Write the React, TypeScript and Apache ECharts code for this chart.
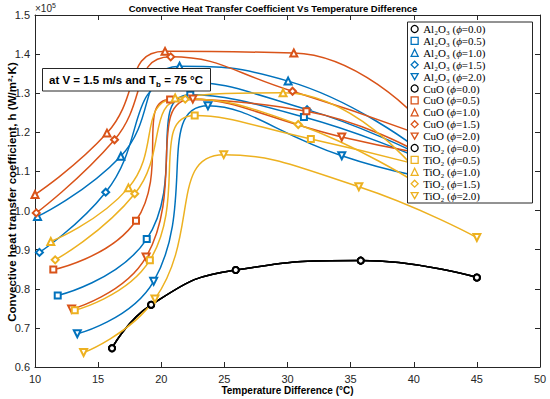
import { useEffect, useRef } from 'react';
import * as echarts from 'echarts';

type Pt = [number, number];

// Temperature difference (°C) vs h (×10^5 W/m²·K)
const baseFluid: Pt[] = [[16.1, 0.648], [19.2, 0.759], [25.9, 0.848], [35.8, 0.872], [45.0, 0.829]];

const al2o3Phi05: Pt[] = [[11.8, 0.783], [18.85, 0.927], [22.3, 1.296], [31.3, 1.239], [40, 1.14]];
const al2o3Phi10: Pt[] = [[10.2, 0.985], [16.8, 1.139], [21.45, 1.369], [30.05, 1.331], [40, 1.165]];
const al2o3Phi15: Pt[] = [[10.35, 0.893], [15.6, 1.047], [21.2, 1.33], [31.55, 1.258], [40, 1.15]];
const al2o3Phi20: Pt[] = [[13.35, 0.685], [19.4, 0.819], [23.7, 1.268], [34.3, 1.14], [40, 1.09]];

const cuoPhi05: Pt[] = [[11.45, 0.849], [18.0, 0.974], [20.7, 1.284], [31.5, 1.254], [40, 1.155]];
const cuoPhi10: Pt[] = [[10.0, 1.041], [15.7, 1.198], [20.3, 1.407], [30.5, 1.403], [40, 1.245]];
const cuoPhi15: Pt[] = [[10.1, 0.994], [16.3, 1.181], [20.75, 1.393], [30.4, 1.305], [40, 1.2]];
const cuoPhi20: Pt[] = [[12.9, 0.748], [18.8, 0.881], [22.5, 1.285], [34.3, 1.188], [40, 1.15]];

const tio2Phi05: Pt[] = [[13.15, 0.745], [19.1, 0.873], [22.65, 1.243], [31.85, 1.183], [40, 1.12]];
const tio2Phi10: Pt[] = [[11.25, 0.921], [17.4, 1.058], [21.1, 1.288], [29.65, 1.301], [40, 1.11]];
const tio2Phi15: Pt[] = [[11.6, 0.874], [17.9, 1.043], [21.9, 1.285], [30.85, 1.22], [40, 1.075]];
const tio2Phi20: Pt[] = [[13.85, 0.637], [19.5, 0.774], [24.95, 1.143], [35.65, 1.061], [45, 0.931]];

const xMin = 10, xMax = 50, xStep = 5;
const yMin = 0.6, yMax = 1.5, yStep = 0.1;

const BLUE = '#0072BD';
const ORANGE = '#D95319';
const YELLOW = '#EDB120';
const BLACK = '#000000';

const DOWN_TRI = 'path://M0,0L10,0L5,8.66Z';

interface Def { name: string; data: Pt[]; color: string; symbol: string; rot: number }

const defs: Def[] = [
  { name: 'Al₂O₃ (ϕ=0.0)', data: baseFluid, color: BLACK, symbol: 'circle', rot: 0 },
  { name: 'Al₂O₃ (ϕ=0.5)', data: al2o3Phi05, color: BLUE, symbol: 'rect', rot: 0 },
  { name: 'Al₂O₃ (ϕ=1.0)', data: al2o3Phi10, color: BLUE, symbol: 'triangle', rot: 0 },
  { name: 'Al₂O₃ (ϕ=1.5)', data: al2o3Phi15, color: BLUE, symbol: 'diamond', rot: 0 },
  { name: 'Al₂O₃ (ϕ=2.0)', data: al2o3Phi20, color: BLUE, symbol: 'triangle', rot: 180 },
  { name: 'CuO (ϕ=0.0)', data: baseFluid, color: BLACK, symbol: 'circle', rot: 0 },
  { name: 'CuO (ϕ=0.5)', data: cuoPhi05, color: ORANGE, symbol: 'rect', rot: 0 },
  { name: 'CuO (ϕ=1.0)', data: cuoPhi10, color: ORANGE, symbol: 'triangle', rot: 0 },
  { name: 'CuO (ϕ=1.5)', data: cuoPhi15, color: ORANGE, symbol: 'diamond', rot: 0 },
  { name: 'CuO (ϕ=2.0)', data: cuoPhi20, color: ORANGE, symbol: 'triangle', rot: 180 },
  { name: 'TiO₂ (ϕ=0.0)', data: baseFluid, color: BLACK, symbol: 'circle', rot: 0 },
  { name: 'TiO₂ (ϕ=0.5)', data: tio2Phi05, color: YELLOW, symbol: 'rect', rot: 0 },
  { name: 'TiO₂ (ϕ=1.0)', data: tio2Phi10, color: YELLOW, symbol: 'triangle', rot: 0 },
  { name: 'TiO₂ (ϕ=1.5)', data: tio2Phi15, color: YELLOW, symbol: 'diamond', rot: 0 },
  { name: 'TiO₂ (ϕ=2.0)', data: tio2Phi20, color: YELLOW, symbol: 'triangle', rot: 180 },
];

const AX = '#262626';
const SANS = '"Liberation Sans", Arial, sans-serif';
const SERIF = '"Liberation Serif", "Times New Roman", serif';

export default function App() {
  const ref = useRef<HTMLDivElement>(null);

  useEffect(() => {
    if (!ref.current) return;
    const chart = echarts.init(ref.current, undefined, { renderer: 'svg' });

    const axisCommon = {
      type: 'value' as const,
      axisLine: { show: true, onZero: false, lineStyle: { color: AX, width: 1 } },
      axisTick: { show: true, inside: true, length: 5, lineStyle: { color: AX, width: 1 } },
      splitLine: { show: false },
    };

    const option: any = {
      animation: false,
      backgroundColor: '#ffffff',
      grid: { left: 35, right: 10, top: 15, bottom: 32 },
      xAxis: [
        {
          ...axisCommon, min: xMin, max: xMax, interval: xStep, position: 'bottom',
          axisLabel: { color: AX, fontSize: 11, fontFamily: SANS, margin: 6 },
        },
        {
          ...axisCommon, min: xMin, max: xMax, interval: xStep, position: 'top',
          axisLabel: { show: false },
        },
      ],
      yAxis: [
        {
          ...axisCommon, min: yMin, max: yMax, interval: yStep, position: 'left',
          axisLabel: { color: AX, fontSize: 11, fontFamily: SANS, margin: 5, formatter: (v: number) => v.toFixed(1) },
        },
        {
          ...axisCommon, min: yMin, max: yMax, interval: yStep, position: 'right',
          axisLabel: { show: false },
        },
      ],
      legend: {
        orient: 'vertical',
        left: 410.5,
        top: 23.5,
        padding: 0,
        itemWidth: 7,
        itemHeight: 7,
        itemGap: 0.9,
        selectedMode: false,
        z: 12,
        data: defs.map((d) => ({
          name: d.name,
          icon: d.rot === 180 ? DOWN_TRI : d.symbol,
          itemStyle: { color: '#ffffff', borderColor: d.color, borderWidth: 1.3 },
        })),
        formatter: (name: string) => {
          const i = name.indexOf('ϕ');
          return `{n|${name.slice(0, i)}}{i|ϕ}{n|${name.slice(i + 1)}}`;
        },
        textStyle: {
          color: '#000',
          fontFamily: SERIF,
          fontSize: 11,
          rich: {
            n: { fontFamily: SERIF, fontSize: 11, color: '#000' },
            i: { fontFamily: SERIF, fontSize: 11, fontStyle: 'italic', color: '#000' },
          },
        },
      },
      series: defs.map((d) => ({
        type: 'line',
        name: d.name,
        data: d.data,
        xAxisIndex: 0,
        yAxisIndex: 0,
        smooth: 0.5,
        symbol: 'empty' + d.symbol.charAt(0).toUpperCase() + d.symbol.slice(1),
        symbolSize: d.symbol === 'circle' ? 6 : d.symbol === 'rect' ? 6 : 7,
        symbolRotate: d.rot,
        showSymbol: true,
        showAllSymbol: true,
        silent: true,
        lineStyle: { color: d.color, width: 1.5 },
        itemStyle: { color: d.color, borderColor: d.color, borderWidth: 1.2 },
        emphasis: { disabled: true },
        z: 2,
      })),
      graphic: [
        {
          type: 'text', x: 273, y: 8, z: 11,
          style: {
            text: 'Convective Heat Transfer Coefficient Vs Temperature Difference',
            fill: '#000', font: `bold 9.5px ${SANS}`, textAlign: 'center', textVerticalAlign: 'middle',
          },
        },
        {
          type: 'text', x: 35, y: 8, z: 11,
          style: {
            text: '{a|×10}{b|5}',
            textAlign: 'left', textVerticalAlign: 'middle',
            rich: {
              a: { fontFamily: SANS, fontSize: 10, fill: AX, lineHeight: 12 },
              b: { fontFamily: SANS, fontSize: 7, fill: AX, verticalAlign: 'top', lineHeight: 12 },
            },
          },
        },
        {
          type: 'text', x: 287.5, y: 390.5, z: 11,
          style: {
            text: 'Temperature Difference (°C)',
            fill: '#000', font: `bold 10px ${SANS}`, textAlign: 'center', textVerticalAlign: 'middle',
          },
        },
        {
          type: 'text', x: 11.5, y: 192, z: 11, rotation: Math.PI / 2,
          style: {
            text: 'Convective heat transfer coefficient, h (W/m²·K)',
            fill: '#000', font: `bold 11.5px ${SANS}`, textAlign: 'center', textVerticalAlign: 'middle',
          },
        },
        {
          type: 'rect', z: 10,
          shape: { x: 42.5, y: 68.5, width: 168, height: 22.5 },
          style: { fill: '#ffffff', stroke: AX, lineWidth: 1 },
        },
        {
          type: 'text', x: 49, y: 80, z: 11,
          style: {
            text: '{a|at V = 1.5 m/s and T}{s|b}{a| = 75 °C}',
            textAlign: 'left', textVerticalAlign: 'middle',
            rich: {
              a: { fontFamily: SANS, fontSize: 11.5, fontWeight: 'bold', fill: '#000', lineHeight: 16 },
              s: { fontFamily: SANS, fontSize: 8, fontWeight: 'bold', fill: '#000', lineHeight: 16, verticalAlign: 'bottom' },
            },
          },
        },
        {
          type: 'rect', z: 10,
          shape: { x: 407.5, y: 22, width: 125, height: 181 },
          style: { fill: '#ffffff', stroke: AX, lineWidth: 1 },
        },
      ],
    };

    chart.setOption(option);
    return () => chart.dispose();
  }, []);

  return (
    <div
      ref={ref}
      style={{ position: 'fixed', left: 0, top: 0, width: 550, height: 399, background: '#fff' }}
    />
  );
}
